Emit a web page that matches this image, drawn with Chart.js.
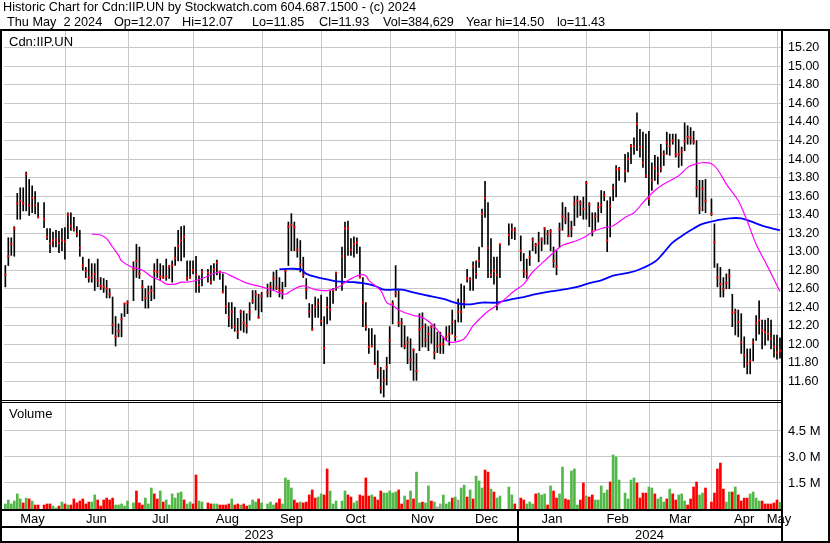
<!DOCTYPE html>
<html>
<head>
<meta charset="utf-8">
<title>Cdn:IIP.UN</title>
<script src="https://cdn.jsdelivr.net/npm/chart.js@4.4.1/dist/chart.umd.min.js"></script>
<style>
  html, body { margin: 0; padding: 0; background: #fff; }
  #wrap { position: relative; width: 830px; height: 543px; }
</style>
</head>
<body>
<div id="wrap"><canvas id="chart" width="830" height="543"></canvas></div>
<script>
/* ── data: one slot per weekday, 2023-05-02 .. 2024-05-02 (null = no trading) ── */
const hi = [
  null,12.80,12.85,13.15,13.15,13.27,13.63,13.69,13.69,13.86,13.78,13.71,13.65,13.53,null,13.53,13.25,13.25,13.21,13.23,
  13.22,13.25,13.26,13.42,13.42,13.37,13.27,13.23,12.94,12.83,12.92,12.87,12.87,12.92,12.72,12.71,12.69,12.60,12.51,12.30,
  12.22,12.33,12.44,12.47,null,12.89,13.08,13.05,12.69,12.60,12.63,12.63,12.87,12.92,12.87,12.85,12.92,12.85,12.90,13.05,
  13.23,13.27,13.28,12.90,12.90,12.90,12.95,12.74,12.81,null,12.81,12.85,12.87,12.91,12.79,12.76,12.63,12.45,12.45,12.40,
  12.28,12.37,12.36,12.33,12.45,12.58,12.58,12.54,12.56,null,12.65,12.67,12.78,12.80,12.72,12.67,12.81,13.32,13.41,13.32,
  13.14,13.12,12.94,12.71,12.44,12.43,12.51,12.49,12.53,12.30,12.51,12.58,12.60,12.78,null,13.05,13.32,13.33,13.14,13.16,
  13.15,13.05,12.72,12.45,12.17,12.17,12.10,11.93,11.75,11.72,11.86,12.19,12.47,12.85,12.58,12.28,12.20,12.08,12.06,11.95,
  11.90,12.33,12.34,12.22,12.19,12.20,12.22,12.13,12.13,12.08,12.19,12.20,12.37,12.26,12.49,12.65,12.63,12.81,12.72,12.89,
  12.90,13.05,13.46,13.76,13.53,13.14,12.94,12.94,13.08,null,null,13.30,13.30,13.26,null,13.17,12.98,12.92,13.01,13.15,
  13.09,13.21,13.15,13.26,13.23,13.24,13.05,13.01,13.31,13.53,13.48,13.42,13.33,13.60,13.60,13.55,13.59,13.76,13.53,13.42,
  13.42,13.53,13.66,13.65,13.55,13.59,13.73,13.93,13.91,null,14.05,14.07,14.16,14.23,14.50,14.32,14.29,14.27,14.30,13.96,
  14.04,14.02,14.16,14.09,14.29,14.27,14.27,14.27,14.21,14.13,14.39,14.36,14.34,14.30,14.20,13.77,13.77,13.78,null,13.57,
  13.30,12.87,12.83,12.72,12.76,12.81,12.54,12.38,12.37,12.33,12.08,11.95,11.95,12.06,12.31,12.47,12.26,12.26,12.28,12.26,
  12.10,12.10,12.07
];
const lo = [
  null,12.59,12.62,12.85,12.96,12.95,13.35,13.35,13.44,13.44,13.39,13.42,13.41,13.37,null,13.26,13.13,12.99,13.05,13.05,
  12.99,13.01,12.92,13.14,13.23,13.22,13.16,12.95,12.80,12.72,12.67,12.67,12.58,12.62,12.59,12.56,12.50,12.50,12.11,11.98,
  12.08,12.08,12.30,12.33,null,12.47,12.72,12.71,12.47,12.39,12.39,12.47,12.49,12.72,12.69,12.71,12.69,12.71,12.67,12.85,
  12.90,12.90,12.94,12.69,12.71,12.76,12.56,12.56,12.63,null,12.67,12.65,12.69,12.75,12.70,12.56,12.33,12.19,12.17,12.14,
  12.06,12.15,12.13,12.12,12.26,12.44,12.37,12.28,12.35,null,12.51,12.51,12.58,12.59,12.51,12.49,12.62,12.85,13.01,13.01,
  12.94,12.78,12.72,12.49,12.29,12.15,12.29,12.29,12.20,11.79,12.22,12.26,12.44,12.58,null,12.58,12.72,12.96,12.96,12.94,
  12.98,12.72,12.19,12.15,11.90,11.97,11.78,11.63,11.47,11.43,11.56,11.79,12.22,12.51,12.19,11.97,11.95,11.79,11.72,11.61,
  11.61,11.93,11.97,11.97,11.93,12.01,11.84,11.91,11.90,11.90,12.04,11.99,12.11,12.04,12.24,12.24,12.39,12.67,12.58,12.58,
  12.71,12.83,13.05,13.37,12.72,12.72,12.65,12.37,12.72,null,null,13.07,13.14,13.13,null,12.90,12.72,12.71,12.85,13.01,
  12.98,12.89,13.01,13.08,13.08,13.01,12.83,12.75,13.05,13.23,13.30,13.16,13.16,13.28,13.37,13.39,13.35,13.35,13.27,13.17,
  13.23,13.32,13.42,13.55,13.00,13.16,13.55,13.59,13.77,null,13.75,13.86,13.95,14.05,14.09,14.02,13.91,13.80,13.50,13.66,
  13.77,13.73,13.86,13.93,14.05,14.04,14.16,14.02,13.91,13.93,14.09,14.16,14.16,14.16,13.59,13.41,13.44,13.42,null,13.39,
  12.83,12.62,12.51,12.51,12.60,12.60,12.19,12.10,12.08,11.90,11.75,11.68,11.68,11.82,12.04,12.11,11.95,11.99,12.04,11.95,
  11.86,11.84,11.85
];
const cl = [
  null,12.67,12.75,12.95,13.08,13.25,13.52,13.55,13.52,13.84,13.50,13.58,13.50,13.37,null,13.35,13.16,13.09,13.12,13.13,
  13.09,13.12,13.11,13.40,13.28,13.24,13.19,13.04,12.85,12.79,12.72,12.72,12.76,12.69,12.63,12.62,12.60,12.54,12.21,12.08,
  12.14,12.27,12.44,12.45,null,12.81,12.90,12.76,12.62,12.50,12.55,12.58,12.79,12.78,12.73,12.72,12.73,12.84,12.85,12.93,
  13.06,13.12,13.16,12.71,12.72,12.80,12.75,12.64,12.78,null,12.77,12.67,12.81,12.88,12.78,12.56,12.41,12.29,12.35,12.19,
  12.13,12.35,12.23,12.20,12.35,12.47,12.54,12.29,12.52,null,12.56,12.62,12.71,12.61,12.58,12.58,12.79,13.27,13.29,13.26,
  13.02,12.86,12.75,12.59,12.35,12.16,12.40,12.44,12.25,11.96,12.40,12.37,12.58,12.77,null,12.95,13.25,13.25,13.02,13.08,
  13.10,12.72,12.45,12.19,11.97,11.98,11.79,11.73,11.53,11.61,11.75,12.04,12.44,12.55,12.23,12.23,11.98,12.02,11.83,11.94,
  11.71,12.16,12.19,12.05,12.11,12.19,11.91,11.98,12.00,12.00,12.08,12.11,12.24,12.08,12.35,12.35,12.46,12.71,12.70,12.84,
  12.76,12.90,13.41,13.58,13.04,12.75,12.79,12.75,13.08,null,null,13.18,13.24,13.23,null,13.01,12.79,12.76,12.94,13.13,
  13.07,13.09,13.13,13.25,13.19,13.22,12.90,12.84,13.24,13.38,13.35,13.17,13.25,13.52,13.55,13.52,13.46,13.74,13.51,13.22,
  13.38,13.48,13.50,13.61,13.12,13.49,13.69,13.89,13.89,null,13.87,14.00,14.14,14.14,14.38,14.13,13.96,13.82,13.57,13.77,
  13.90,13.84,13.90,14.05,14.18,14.14,14.20,14.05,14.05,14.08,14.19,14.24,14.23,14.19,13.69,13.47,13.68,13.55,null,13.41,
  13.10,12.72,12.65,12.59,12.66,12.74,12.34,12.35,12.24,12.02,11.88,11.79,11.82,12.02,12.23,12.26,12.15,12.13,12.11,12.06,
  11.97,11.91,11.93
];
// volume in millions of units
const vol = [
  null,0.33,0.29,0.52,0.29,0.46,0.87,0.58,0.35,0.63,0.58,0.46,0.23,0.23,null,0.23,0.29,0.29,0.17,0.06,
  0.17,0.40,0.29,0.23,0.23,0.58,0.35,0.46,0.58,0.29,0.40,0.40,0.81,0.52,0.17,0.52,0.63,0.52,0.63,0.23,
  0.23,0.29,0.17,0.46,null,0.35,1.04,0.35,0.23,0.63,0.29,1.21,0.87,0.58,1.04,0.40,0.52,0.23,0.87,0.63,
  0.92,0.98,0.52,0.29,0.40,0.29,1.96,0.46,0.40,null,0.35,0.29,0.29,0.29,0.23,0.23,0.23,0.29,0.58,0.23,
  0.29,0.23,0.29,0.17,0.23,0.52,0.40,0.58,0.35,null,0.29,0.40,0.23,0.35,0.58,0.29,1.79,1.67,1.21,0.52,
  0.35,0.40,0.35,0.40,0.81,1.10,0.63,0.69,0.87,0.81,2.31,1.04,0.29,0.46,null,0.46,1.04,0.81,0.69,0.35,
  0.46,0.81,0.75,1.79,0.75,0.81,0.69,0.52,1.04,0.92,0.92,1.04,0.92,0.98,1.10,0.29,0.75,0.52,1.04,0.58,
  2.13,0.35,0.40,0.35,1.33,0.46,0.40,0.12,0.29,0.81,0.29,0.40,0.63,0.69,0.52,1.21,1.38,0.69,1.10,0.58,
  1.90,1.62,1.21,2.25,2.13,1.15,0.98,0.63,0.75,null,null,1.27,0.81,0.29,null,0.63,0.52,0.29,0.40,0.29,
  0.87,0.92,0.81,0.87,0.23,1.33,1.04,0.63,0.87,2.42,0.58,0.52,2.19,2.31,0.23,0.52,1.50,0.75,0.69,0.81,
  0.52,0.52,1.33,0.92,1.10,1.56,3.12,3.00,1.67,null,0.92,0.58,1.67,1.79,1.50,0.63,0.92,0.92,1.27,1.21,
  0.87,0.58,0.69,0.40,0.58,1.15,0.87,0.52,0.81,0.87,0.46,0.23,0.58,1.27,1.56,0.81,0.92,1.21,null,0.40,
  0.92,2.31,2.65,1.15,0.40,0.98,0.98,1.27,0.81,0.46,0.63,0.63,0.87,0.98,0.63,0.46,0.46,0.29,0.29,0.29,
  0.35,0.52,0.385
];
// volume bar colour as drawn: g = up, r = down, n = unchanged, - = none
const volDir = ('-nggggggrgrgrr' + '-rrrggrgrgrrrrrrrggrrrrrrggggg' + '-grrrgggrrgrggggggrggrrgg' +
  '-rrggrrrrgrrgrrgggrg' + '-gggrrggggrrgrrrrrggrrggg' + '-ggrrggrrrrgrrrgggggrrgrgrggrg' +
  'grgnngggrgnggrgrgggrrgrgg' + '--ggr-rrgggrgggrgrrggrrgggrrgr' + 'rgggggrggg-ggggrrrrggrgggrgrrg' +
  'ggrrrrggr-rrrrrggrgrrrrggggrrrrrrg').split('');

// moving averages as drawn (slot, value)
const maFastX = [31,34,36,38,40,41,44,48,51,54,56,59,61,63,65,68,74,79,83,88,92,96,98,102,106,110,114,117,121,123,124,128,130,132,134,
  139,142,146,150,152,156,159,163,166,169,173,176,179,183,186,189,193,196,199,202,206,210,213,216,220,223,228,231,233,236,239,241,
  244,248,251,254,258,262];
const maFastY = [13.19,13.18,13.14,13.05,12.96,12.90,12.84,12.80,12.73,12.69,12.65,12.65,12.67,12.67,12.68,12.71,12.78,12.72,12.66,
  12.62,12.58,12.54,12.58,12.63,12.59,12.58,12.62,12.69,12.75,12.74,12.69,12.58,12.45,12.42,12.37,12.31,12.29,12.19,12.04,12.02,
  12.06,12.20,12.33,12.40,12.47,12.58,12.65,12.78,12.90,12.99,13.07,13.11,13.15,13.21,13.25,13.28,13.37,13.42,13.53,13.66,13.73,
  13.82,13.91,13.94,13.96,13.95,13.89,13.73,13.55,13.33,13.08,12.83,12.57];
const maSlowX = [94,101,103,107,110,113,119,122,126,129,135,139,143,149,154,158,162,167,171,176,180,185,189,194,198,202,206,211,215,
  220,223,226,230,233,236,241,245,249,252,256,262];
const maSlowY = [12.81,12.81,12.76,12.72,12.70,12.68,12.67,12.66,12.63,12.59,12.59,12.56,12.53,12.49,12.44,12.43,12.45,12.45,12.48,
  12.51,12.54,12.57,12.59,12.62,12.66,12.69,12.74,12.77,12.81,12.89,12.99,13.10,13.19,13.25,13.30,13.34,13.36,13.36,13.33,13.28,13.23];

const priceTicks = [11.6,11.8,12.0,12.2,12.4,12.6,12.8,13.0,13.2,13.4,13.6,13.8,14.0,14.2,14.4,14.6,14.8,15.0,15.2];
const volTicks = [1.5, 3.0, 4.5];
const monthNames = ['May','Jun','Jul','Aug','Sep','Oct','Nov','Dec','Jan','Feb','Mar','Apr','May'];
const yearNames = ['2023', '2024'];
const titleLine1 = 'Historic Chart for Cdn:IIP.UN by Stockwatch.com 604.687.1500 - (c) 2024';
const titleLine2 = [['Thu May  2 2024', 7], ['Op=12.07', 114], ['Hi=12.07', 182], ['Lo=11.85', 252],
  ['Cl=11.93', 319], ['Vol=384,629', 383], ['Year hi=14.50', 466], ['lo=11.43', 557]];

/* ── slots: every weekday in the range ── */
const days = [];
for (let d = new Date(Date.UTC(2023, 4, 2)); d <= new Date(Date.UTC(2024, 4, 2)); d.setUTCDate(d.getUTCDate() + 1)) {
  const wd = d.getUTCDay();
  if (wd > 0 && wd < 6) days.push(new Date(d));
}
// month boundaries in slot units (a month starting on a weekend sits just before its first weekday)
const monthBounds = [];
days.forEach((d, i) => {
  if (i && d.getUTCMonth() !== days[i - 1].getUTCMonth()) monthBounds.push(d.getUTCDate() > 1 ? i - 0.9 : i);
});

const FONT = "'Liberation Sans', Arial, sans-serif";
const GRID = '#c8c8c8';
const VOLCOL = { g: '#52b848', r: '#ff0000', n: '#a0a0a0' };

const rangeData = [], closeData = [], volData = [], volColors = [];
hi.forEach((h, i) => {
  if (h == null) return;
  rangeData.push({ x: i, y: [lo[i], h] });
  closeData.push({ x: i, y: cl[i] });
});
vol.forEach((v, i) => {
  if (v == null) return;
  volData.push({ x: i, y: v });
  volColors.push(VOLCOL[volDir[i]] || VOLCOL.n);
});

const decor = {
  id: 'decor',
  beforeDraw(c) {
    const ctx = c.ctx;
    ctx.save();
    ctx.fillStyle = '#fff';
    ctx.fillRect(0, 0, c.width, c.height);
    ctx.restore();
  },
  beforeDatasetsDraw(c) {
    const { ctx, chartArea: a, scales: { x } } = c;
    ctx.save();
    ctx.strokeStyle = GRID;
    ctx.lineWidth = 1;
    ctx.beginPath();
    monthBounds.forEach(b => {
      const px = Math.round(x.getPixelForValue(b)) + 0.5;
      ctx.moveTo(px, a.top); ctx.lineTo(px, a.bottom);
    });
    ctx.stroke();
    ctx.restore();
  },
  afterDraw(c) {
    const { ctx, chartArea: a, scales: { x } } = c;
    const R = Math.round(a.right);
    ctx.save();
    ctx.fillStyle = '#000';
    ctx.fillRect(0, 29, 830, 2);            // under the title
    ctx.fillRect(0, 29, 2, 514);            // left frame
    ctx.fillRect(R, 29, 2, 514);            // right edge of plot
    ctx.fillRect(828, 29, 2, 514);          // outer right frame
    ctx.fillRect(0, 400, R + 2, 1);         // price / volume separator
    ctx.fillRect(0, 402, R + 2, 1);
    ctx.fillRect(0, 509, R + 2, 2);         // under volume
    ctx.fillRect(0, 526, R + 2, 2);         // under months
    ctx.fillRect(0, 541, 830, 2);           // bottom

    const bx = monthBounds.map(b => x.getPixelForValue(b));
    const yearSplit = Math.round(bx[7]);
    ctx.fillRect(yearSplit - 1, 511, 2, 30);

    ctx.font = '13px ' + FONT;
    ctx.textBaseline = 'alphabetic';
    ctx.textAlign = 'center';
    const edges = [0, ...bx, a.right];
    monthNames.forEach((m, i) => {
      ctx.fillText(m, (edges[i] + edges[i + 1]) / 2, 523);
    });
    ctx.fillText(yearNames[0], yearSplit / 2, 539);
    ctx.fillText(yearNames[1], (yearSplit + a.right) / 2, 539);

    ctx.textAlign = 'left';
    ctx.fillText('Cdn:IIP.UN', 9, 46);
    ctx.fillText('Volume', 9, 418);
    ctx.font = '12.7px ' + FONT;
    ctx.fillText(titleLine1, 3, 11);
    titleLine2.forEach(([t, px]) => ctx.fillText(t, px, 26));
    ctx.restore();
  }
};

new Chart(document.getElementById('chart'), {
  type: 'bar',
  data: {
    datasets: [
      { type: 'line', data: maFastX.map((v, i) => ({ x: v, y: maFastY[i] })), yAxisID: 'y',
        borderColor: '#ff00ff', borderWidth: 1.2, pointRadius: 0, tension: 0.35, order: 0 },
      { type: 'line', data: maSlowX.map((v, i) => ({ x: v, y: maSlowY[i] })), yAxisID: 'y',
        borderColor: '#0000ff', borderWidth: 1.8, pointRadius: 0, tension: 0.35, order: 0 },
      { type: 'line', data: closeData, yAxisID: 'y', showLine: false, pointStyle: 'rect',
        pointRadius: 1.45, pointBackgroundColor: '#ff0000', pointBorderWidth: 0, order: 1 },
      { type: 'bar', data: rangeData, yAxisID: 'y', backgroundColor: '#000', barThickness: 1,
        grouped: false, order: 2 },
      { type: 'bar', data: volData, yAxisID: 'yv', backgroundColor: volColors, barThickness: 2,
        grouped: false, order: 3 }
    ]
  },
  options: {
    responsive: false,
    animation: false,
    devicePixelRatio: 1,
    events: [],
    layout: { padding: { left: 3, top: 31, right: 0, bottom: 34 } },
    plugins: { legend: { display: false }, tooltip: { enabled: false } },
    scales: {
      x: { type: 'linear', display: false, offset: false, min: 1.55, max: 262.34 },
      y: {
        position: 'right', stack: 'panes', stackWeight: 370, min: 11.387, max: 15.383,
        afterFit: s => { s.width = 49; },
        afterBuildTicks: s => { s.ticks = priceTicks.map(v => ({ value: v })); },
        grid: { color: GRID, drawTicks: false },
        border: { display: false },
        ticks: { padding: 7, autoSkip: false, color: '#000', font: { family: FONT, size: 12.5 },
                 callback: v => v.toFixed(2) }
      },
      yv: {
        position: 'right', stack: 'panes', stackWeight: 108, min: 0, max: 6.23,
        afterFit: s => { s.width = 49; },
        afterBuildTicks: s => { s.ticks = volTicks.map(v => ({ value: v })); },
        grid: { color: GRID, drawTicks: false },
        border: { display: false },
        ticks: { padding: 7, autoSkip: false, color: '#000', font: { family: FONT, size: 13 },
                 callback: v => v.toFixed(1) + ' M' }
      }
    }
  },
  plugins: [decor]
});
</script>
</body>
</html>
